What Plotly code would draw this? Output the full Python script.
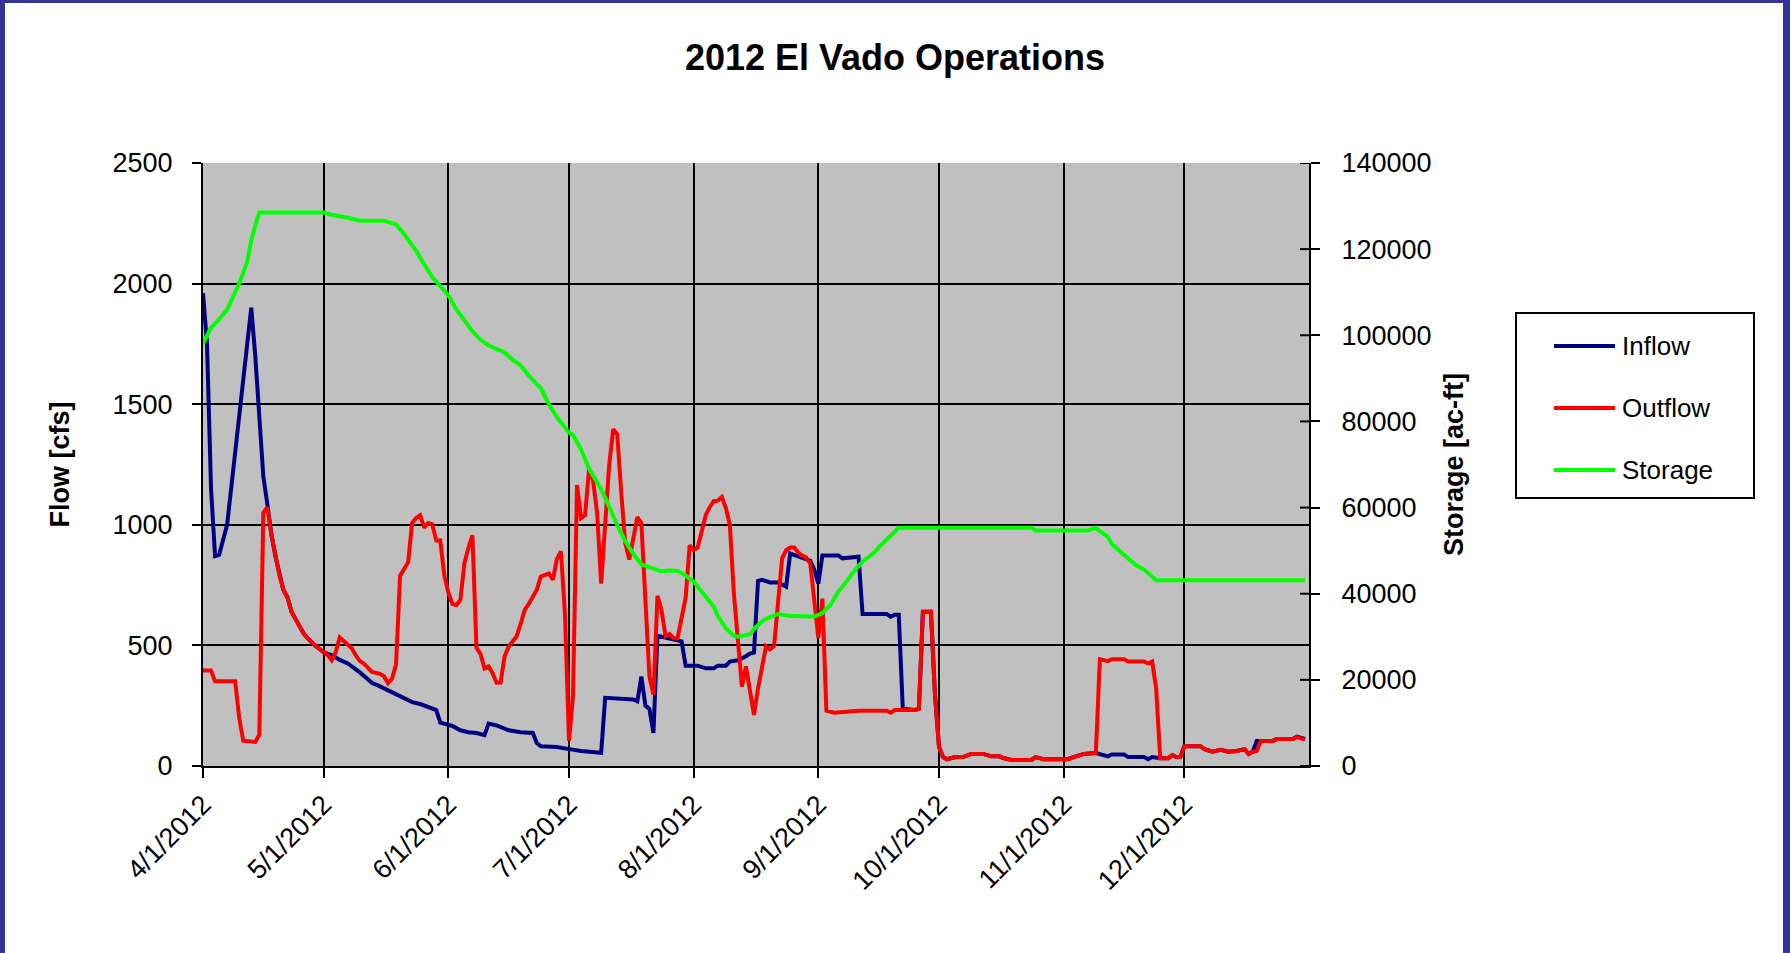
import plotly.graph_objects as go

# ---- El Vado Reservoir, 2012 daily operations ----
inflow_dates = [
    "2012-04-01", "2012-04-02", "2012-04-03", "2012-04-04", "2012-04-05", "2012-04-06",
    "2012-04-07", "2012-04-08", "2012-04-09", "2012-04-10", "2012-04-11", "2012-04-12",
    "2012-04-13", "2012-04-14", "2012-04-15", "2012-04-16", "2012-04-17", "2012-04-18",
    "2012-04-19", "2012-04-20", "2012-04-21", "2012-04-22", "2012-04-23", "2012-04-24",
    "2012-04-25", "2012-04-26", "2012-04-27", "2012-04-28", "2012-04-29", "2012-04-30",
    "2012-05-01", "2012-05-02", "2012-05-03", "2012-05-05", "2012-05-07", "2012-05-10",
    "2012-05-13", "2012-05-15", "2012-05-17", "2012-05-19", "2012-05-21", "2012-05-23",
    "2012-05-25", "2012-05-27", "2012-05-29", "2012-05-30", "2012-06-02", "2012-06-04",
    "2012-06-06", "2012-06-08", "2012-06-10", "2012-06-11", "2012-06-13", "2012-06-16",
    "2012-06-19", "2012-06-22", "2012-06-23", "2012-06-24", "2012-06-28", "2012-07-01",
    "2012-07-04", "2012-07-09", "2012-07-10", "2012-07-17", "2012-07-18", "2012-07-19",
    "2012-07-20", "2012-07-21", "2012-07-22", "2012-07-23", "2012-07-26", "2012-07-27",
    "2012-07-29", "2012-07-30", "2012-08-02", "2012-08-04", "2012-08-06", "2012-08-07",
    "2012-08-09", "2012-08-10", "2012-08-12", "2012-08-14", "2012-08-15", "2012-08-16",
    "2012-08-17", "2012-08-18", "2012-08-20", "2012-08-22", "2012-08-24", "2012-08-25",
    "2012-08-28", "2012-08-30", "2012-08-31", "2012-09-01", "2012-09-02", "2012-09-06",
    "2012-09-07", "2012-09-11", "2012-09-12", "2012-09-18", "2012-09-19", "2012-09-20",
    "2012-09-21", "2012-09-22", "2012-09-25", "2012-09-26", "2012-09-27", "2012-09-29",
    "2012-09-30", "2012-10-01", "2012-10-02", "2012-10-03", "2012-10-05", "2012-10-07",
    "2012-10-09", "2012-10-12", "2012-10-14", "2012-10-16", "2012-10-17", "2012-10-19",
    "2012-10-24", "2012-10-25", "2012-10-27", "2012-11-02", "2012-11-04", "2012-11-06",
    "2012-11-09", "2012-11-10", "2012-11-12", "2012-11-13", "2012-11-16", "2012-11-17",
    "2012-11-21", "2012-11-22", "2012-11-23", "2012-11-25", "2012-11-27", "2012-11-28",
    "2012-11-29", "2012-11-30", "2012-12-01", "2012-12-05", "2012-12-06", "2012-12-08",
    "2012-12-10", "2012-12-12", "2012-12-14", "2012-12-16", "2012-12-17", "2012-12-18",
    "2012-12-19", "2012-12-23", "2012-12-24", "2012-12-28", "2012-12-29", "2012-12-31",
]
inflow_cfs = [
    1960, 1750, 1150, 870, 875, 940,
    1000, 1150, 1300, 1450, 1600, 1750,
    1900, 1700, 1420, 1200, 1085, 960,
    870, 790, 730, 700, 640, 610,
    580, 550, 530, 512, 498, 485,
    472, 465, 460, 440, 425, 388,
    345, 330, 313, 298, 280, 265,
    257, 246, 232, 180, 166, 148,
    140, 137, 128, 176, 168, 148,
    140, 137, 95, 82, 79, 70,
    62, 55, 283, 276, 268, 371,
    250, 237, 137, 540, 530, 525,
    517, 416, 416, 405, 405, 416,
    416, 433, 438, 455, 466, 470,
    767, 772, 761, 761, 744, 881,
    864, 851, 814, 756, 873, 873,
    861, 868, 630, 630, 619, 627,
    627, 237, 232, 237, 639, 639,
    296, 80, 37, 28, 37, 37,
    50, 50, 40, 40, 33, 25,
    25, 37, 28, 28, 40, 50,
    54, 50, 40, 48, 48, 37,
    37, 28, 37, 32, 32, 45,
    37, 37, 82, 82, 70, 59,
    67, 59, 62, 70, 50, 59,
    104, 104, 112, 112, 122, 112,
]

outflow_dates = [
    "2012-04-01", "2012-04-03", "2012-04-04", "2012-04-09", "2012-04-10", "2012-04-11",
    "2012-04-14", "2012-04-15", "2012-04-16", "2012-04-17", "2012-04-18", "2012-04-19",
    "2012-04-20", "2012-04-21", "2012-04-22", "2012-04-23", "2012-04-24", "2012-04-25",
    "2012-04-26", "2012-04-27", "2012-04-28", "2012-04-29", "2012-04-30", "2012-05-01",
    "2012-05-02", "2012-05-03", "2012-05-04", "2012-05-05", "2012-05-06", "2012-05-07",
    "2012-05-08", "2012-05-09", "2012-05-10", "2012-05-11", "2012-05-12", "2012-05-13",
    "2012-05-14", "2012-05-15", "2012-05-16", "2012-05-17", "2012-05-18", "2012-05-19",
    "2012-05-20", "2012-05-21", "2012-05-22", "2012-05-23", "2012-05-24", "2012-05-25",
    "2012-05-26", "2012-05-27", "2012-05-28", "2012-05-29", "2012-05-30", "2012-05-31",
    "2012-06-01", "2012-06-02", "2012-06-03", "2012-06-04", "2012-06-05", "2012-06-06",
    "2012-06-07", "2012-06-08", "2012-06-09", "2012-06-10", "2012-06-11", "2012-06-12",
    "2012-06-13", "2012-06-14", "2012-06-15", "2012-06-16", "2012-06-17", "2012-06-18",
    "2012-06-19", "2012-06-20", "2012-06-21", "2012-06-22", "2012-06-23", "2012-06-24",
    "2012-06-25", "2012-06-26", "2012-06-27", "2012-06-28", "2012-06-29", "2012-06-30",
    "2012-07-01", "2012-07-02", "2012-07-03", "2012-07-04", "2012-07-05", "2012-07-06",
    "2012-07-07", "2012-07-08", "2012-07-09", "2012-07-10", "2012-07-11", "2012-07-12",
    "2012-07-13", "2012-07-14", "2012-07-15", "2012-07-16", "2012-07-17", "2012-07-18",
    "2012-07-19", "2012-07-20", "2012-07-21", "2012-07-22", "2012-07-23", "2012-07-24",
    "2012-07-25", "2012-07-26", "2012-07-27", "2012-07-28", "2012-07-29", "2012-07-30",
    "2012-07-31", "2012-08-01", "2012-08-02", "2012-08-03", "2012-08-04", "2012-08-05",
    "2012-08-06", "2012-08-07", "2012-08-08", "2012-08-09", "2012-08-10", "2012-08-11",
    "2012-08-12", "2012-08-13", "2012-08-14", "2012-08-15", "2012-08-16", "2012-08-17",
    "2012-08-18", "2012-08-19", "2012-08-20", "2012-08-21", "2012-08-22", "2012-08-23",
    "2012-08-24", "2012-08-25", "2012-08-26", "2012-08-27", "2012-08-28", "2012-08-29",
    "2012-08-30", "2012-08-31", "2012-09-01", "2012-09-02", "2012-09-03", "2012-09-05",
    "2012-09-11", "2012-09-18", "2012-09-19", "2012-09-20", "2012-09-25", "2012-09-26",
    "2012-09-27", "2012-09-29", "2012-09-30", "2012-10-01", "2012-10-02", "2012-10-03",
    "2012-10-05", "2012-10-07", "2012-10-09", "2012-10-12", "2012-10-14", "2012-10-16",
    "2012-10-17", "2012-10-19", "2012-10-24", "2012-10-25", "2012-10-27", "2012-11-02",
    "2012-11-04", "2012-11-06", "2012-11-09", "2012-11-10", "2012-11-12", "2012-11-13",
    "2012-11-16", "2012-11-17", "2012-11-21", "2012-11-22", "2012-11-23", "2012-11-24",
    "2012-11-25", "2012-11-27", "2012-11-28", "2012-11-29", "2012-11-30", "2012-12-01",
    "2012-12-05", "2012-12-06", "2012-12-08", "2012-12-10", "2012-12-12", "2012-12-14",
    "2012-12-16", "2012-12-17", "2012-12-18", "2012-12-19", "2012-12-20", "2012-12-23",
    "2012-12-24", "2012-12-28", "2012-12-29", "2012-12-31",
]
outflow_cfs = [
    396, 396, 351, 351, 200, 105,
    100, 130, 1050, 1073, 960, 870,
    790, 730, 700, 640, 610, 580,
    550, 530, 512, 498, 485, 472,
    460, 438, 471, 533, 518, 505,
    488, 458, 435, 425, 410, 390,
    386, 382, 372, 343, 363, 421,
    789, 820, 844, 1007, 1028, 1040,
    988, 1007, 1002, 935, 935, 790,
    720, 672, 667, 689, 840, 906,
    956, 490, 465, 405, 413, 385,
    345, 346, 455, 495, 515, 538,
    590, 647, 672, 700, 731, 786,
    792, 798, 772, 859, 890, 630,
    104, 290, 1165, 1028, 1040, 1232,
    1182, 1048, 756, 998, 1249, 1396,
    1375, 1132, 923, 856, 940, 1032,
    1007, 714, 371, 296, 706, 647,
    538, 547, 530, 530, 610, 697,
    915, 895, 906, 981, 1040, 1073,
    1098, 1100, 1115, 1070, 1000, 714,
    497, 329, 413, 313, 212, 321,
    421, 497, 483, 497, 681, 861,
    895, 906, 906, 885, 872, 864,
    839, 697, 530, 694, 229, 221,
    229, 229, 221, 232, 232, 237,
    639, 639, 296, 80, 37, 28,
    37, 37, 50, 50, 40, 40,
    33, 25, 25, 37, 28, 28,
    40, 50, 54, 443, 435, 443,
    443, 433, 433, 425, 433, 321,
    32, 32, 45, 37, 37, 82,
    82, 70, 59, 67, 59, 62,
    70, 50, 59, 62, 104, 104,
    112, 112, 120, 109,
]

storage_dates = [
    "2012-04-01", "2012-04-03", "2012-04-05", "2012-04-07", "2012-04-08", "2012-04-10",
    "2012-04-12", "2012-04-13", "2012-04-14", "2012-04-15", "2012-05-01", "2012-05-03",
    "2012-05-07", "2012-05-10", "2012-05-16", "2012-05-18", "2012-05-19", "2012-05-21",
    "2012-05-24", "2012-05-26", "2012-05-28", "2012-06-01", "2012-06-03", "2012-06-05",
    "2012-06-07", "2012-06-09", "2012-06-11", "2012-06-15", "2012-06-17", "2012-06-19",
    "2012-06-21", "2012-06-24", "2012-06-26", "2012-06-28", "2012-06-30", "2012-07-01",
    "2012-07-02", "2012-07-04", "2012-07-06", "2012-07-09", "2012-07-11", "2012-07-13",
    "2012-07-15", "2012-07-17", "2012-07-19", "2012-07-22", "2012-07-24", "2012-07-26",
    "2012-07-28", "2012-07-30", "2012-08-01", "2012-08-02", "2012-08-04", "2012-08-06",
    "2012-08-07", "2012-08-09", "2012-08-11", "2012-08-12", "2012-08-15", "2012-08-16",
    "2012-08-18", "2012-08-20", "2012-08-22", "2012-08-25", "2012-08-31", "2012-09-02",
    "2012-09-04", "2012-09-06", "2012-09-08", "2012-09-10", "2012-09-12", "2012-09-15",
    "2012-09-16", "2012-09-18", "2012-09-21", "2012-10-24", "2012-10-25", "2012-11-07",
    "2012-11-09", "2012-11-10", "2012-11-12", "2012-11-13", "2012-11-15", "2012-11-17",
    "2012-11-19", "2012-11-21", "2012-11-23", "2012-11-24", "2012-12-31",
]
storage_acft = [
    98000, 101800, 103700, 106000, 108000, 112000,
    117000, 122000, 125500, 128500, 128500, 128000,
    127300, 126600, 126600, 126000, 125700, 123500,
    119600, 116500, 113500, 109300, 106000, 103500,
    100900, 99000, 97600, 96000, 94300, 93000,
    90600, 87700, 84000, 81000, 78500, 77400,
    76900, 73500, 69000, 64300, 60200, 55900,
    52200, 49200, 46800, 45900, 45200, 45400,
    45300, 44200, 42800, 41600, 39200, 37000,
    34800, 32000, 30200, 30000, 30600, 31800,
    33600, 34600, 35300, 34800, 34700, 35500,
    37400, 40500, 42800, 45400, 47500, 49600,
    50800, 52600, 55300, 55300, 54700, 54700,
    55300, 54500, 53200, 51500, 49800, 48400,
    46600, 45600, 43900, 43100, 43100,
]

month_ticks = ["2012-04-01", "2012-05-01", "2012-06-01", "2012-07-01", "2012-08-01",
               "2012-09-01", "2012-10-01", "2012-11-01", "2012-12-01"]
month_labels = ["4/1/2012", "5/1/2012", "6/1/2012", "7/1/2012", "8/1/2012",
                "9/1/2012", "10/1/2012", "11/1/2012", "12/1/2012"]

legend_names = ["Inflow", "Outflow", "Storage"]
legend_colors = ["#000080", "#FF0000", "#00FF00"]

FONT = "Arial, 'Liberation Sans', sans-serif"
W, H = 1790, 953
L, R, T, B = 203, 1309, 163, 766          # plot area in pixels
LINE_W = 4


def px_x(p):
    return (p - L) / (R - L)


def px_y(p):
    return (B - p) / (B - T)


fig = go.Figure()
fig.add_trace(go.Scatter(x=inflow_dates, y=inflow_cfs, name=legend_names[0], mode="lines",
                         line=dict(color=legend_colors[0], width=LINE_W), yaxis="y"))
fig.add_trace(go.Scatter(x=outflow_dates, y=outflow_cfs, name=legend_names[1], mode="lines",
                         line=dict(color=legend_colors[1], width=LINE_W), yaxis="y"))
fig.add_trace(go.Scatter(x=storage_dates, y=storage_acft, name=legend_names[2], mode="lines",
                         line=dict(color=legend_colors[2], width=LINE_W), yaxis="y2"))

shapes = []
annotations = []

# boxed legend to the right of the storage axis
shapes.append(dict(type="rect", xref="paper", yref="paper",
                   x0=px_x(1516), x1=px_x(1754), y0=px_y(498), y1=px_y(313),
                   line=dict(color="black", width=2), fillcolor="white", layer="above"))
for i, (nm, col) in enumerate(zip(legend_names, legend_colors)):
    yy = px_y(346 + i * 62)
    shapes.append(dict(type="line", xref="paper", yref="paper",
                       x0=px_x(1554), x1=px_x(1615), y0=yy, y1=yy,
                       line=dict(color=col, width=LINE_W), layer="above"))
    annotations.append(dict(text=nm, xref="paper", yref="paper", x=px_x(1620), y=yy,
                            xanchor="left", yanchor="middle", showarrow=False,
                            font=dict(family=FONT, size=26, color="black")))

# cross tick marks inside the right axis
for s in range(0, 140001, 20000):
    shapes.append(dict(type="line", xref="paper", yref="y2", x0=px_x(R - 9), x1=1,
                       y0=s, y1=s, line=dict(color="black", width=2), layer="above"))

# page frame
frame = "#333399"
shapes += [
    dict(type="rect", xref="paper", yref="paper", x0=px_x(0), x1=px_x(5), y0=px_y(H), y1=px_y(0),
         fillcolor=frame, line=dict(width=0)),
    dict(type="rect", xref="paper", yref="paper", x0=px_x(0), x1=px_x(W), y0=px_y(3), y1=px_y(0),
         fillcolor=frame, line=dict(width=0)),
    dict(type="rect", xref="paper", yref="paper", x0=px_x(1783), x1=px_x(W), y0=px_y(H), y1=px_y(0),
         fillcolor=frame, line=dict(width=0)),
]

axis_font = dict(family=FONT, size=27, color="black")

fig.update_layout(
    width=W, height=H,
    margin=dict(l=L, r=W - R, t=T, b=H - B, pad=0),
    paper_bgcolor="white",
    plot_bgcolor="#C0C0C0",
    showlegend=False,
    font=dict(family=FONT, color="black"),
    title=dict(text="<b>2012 El Vado Operations</b>", x=0.5, xref="container", xanchor="center",
               y=1 - 57 / H, yref="container", yanchor="middle",
               font=dict(family=FONT, size=36, color="black")),
    xaxis=dict(type="date", range=["2012-04-01", "2013-01-01"],
               tickmode="array", tickvals=month_ticks, ticktext=month_labels,
               tickangle=-45, tickfont=axis_font,
               showgrid=True, gridcolor="black", gridwidth=2,
               showline=True, linecolor="black", linewidth=2,
               ticks="outside", ticklen=10, tickwidth=2, tickcolor="black",
               zeroline=False),
    yaxis=dict(range=[0, 2500], dtick=500, tickfont=axis_font,
               title=dict(text="<b>Flow [cfs]</b>", font=dict(family=FONT, size=27, color="black"),
                          standoff=35),
               showgrid=True, gridcolor="black", gridwidth=2,
               showline=True, linecolor="black", linewidth=2,
               ticks="outside", ticklen=9, tickwidth=2, tickcolor="black",
               ticklabelstandoff=14, zeroline=False),
    yaxis2=dict(range=[0, 140000], dtick=20000, overlaying="y", side="right",
                tickfont=axis_font, tickformat="d",
                title=dict(text="<b>Storage [ac-ft]</b>", font=dict(family=FONT, size=27, color="black"),
                           standoff=14),
                showgrid=False, showline=True, linecolor="black", linewidth=2,
                ticks="outside", ticklen=9, tickwidth=2, tickcolor="black",
                ticklabelstandoff=16, zeroline=False),
    shapes=shapes,
    annotations=annotations,
)

fig.write_html("out.html")
